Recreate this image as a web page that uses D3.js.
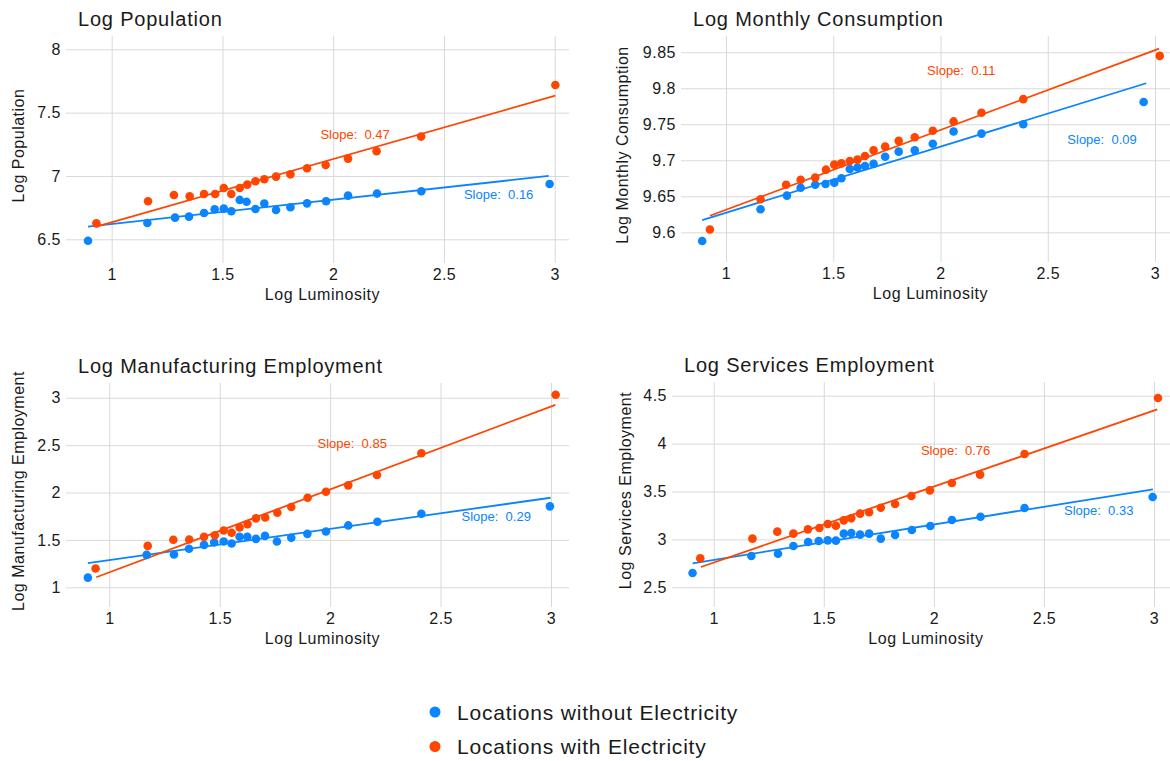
<!DOCTYPE html>
<html>
<head>
<meta charset="utf-8">
<script src="https://cdn.jsdelivr.net/npm/d3@7/dist/d3.min.js"></script>
<style>
  html, body { margin: 0; padding: 0; background: #fff; }
  svg { display: block; font-family: "Liberation Sans", Arial, sans-serif; }
</style>
</head>
<body>
<svg id="chart" width="1170" height="761"></svg>
<script>
// ---------------- DATA ----------------
const panelTitles = ["Log Population", "Log Monthly Consumption", "Log Manufacturing Employment", "Log Services Employment"];
const yAxisTitles = ["Log Population", "Log Monthly Consumption", "Log Manufacturing Employment", "Log Services Employment"];
const xAxisTitle = "Log Luminosity";
const seriesNames = ["Locations without Electricity", "Locations with Electricity"];

const xTickValues = [1, 1.5, 2, 2.5, 3];
const xTickLabels = ["1", "1.5", "2", "2.5", "3"];
const popYTicks = [6.5, 7, 7.5, 8];
const popYTickLabels = ["6.5", "7", "7.5", "8"];
const consYTicks = [9.6, 9.65, 9.7, 9.75, 9.8, 9.85];
const consYTickLabels = ["9.6", "9.65", "9.7", "9.75", "9.8", "9.85"];
const mfgYTicks = [1, 1.5, 2, 2.5, 3];
const mfgYTickLabels = ["1", "1.5", "2", "2.5", "3"];
const svcYTicks = [2.5, 3, 3.5, 4, 4.5];
const svcYTickLabels = ["2.5", "3", "3.5", "4", "4.5"];

// Log Population
const popXNo   = [0.893,1.161,1.286,1.349,1.417,1.465,1.506,1.540,1.578,1.609,1.649,1.689,1.742,1.807,1.882,1.968,2.067,2.198,2.398,2.977];
const popYNo   = [6.489,6.629,6.671,6.679,6.708,6.737,6.742,6.721,6.811,6.797,6.739,6.782,6.732,6.753,6.784,6.800,6.845,6.861,6.879,6.937];
const popXWith = [0.931,1.164,1.281,1.352,1.417,1.467,1.506,1.540,1.578,1.612,1.649,1.689,1.742,1.807,1.882,1.966,2.067,2.196,2.397,3.003];
const popYWith = [6.626,6.800,6.850,6.839,6.858,6.858,6.905,6.858,6.905,6.932,6.958,6.974,6.995,7.013,7.061,7.087,7.137,7.195,7.311,7.718];
const popFitNo   = [0.893, 6.600, 2.973, 7.000];
const popFitWith = [0.931, 6.600, 3.003, 7.634];
const popSlopes = ["0.16", "0.47"];
const popSlopePos = [[2.747, 6.853], [2.099, 7.326]];

// Log Monthly Consumption
const consXNo   = [0.889,1.161,1.284,1.348,1.416,1.464,1.505,1.538,1.577,1.613,1.648,1.688,1.742,1.805,1.880,1.964,2.061,2.191,2.386,2.947];
const consYNo   = [9.588,9.632,9.651,9.662,9.666,9.667,9.669,9.675,9.688,9.690,9.692,9.695,9.705,9.712,9.714,9.723,9.740,9.737,9.750,9.781];
const consXWith = [0.925,1.161,1.280,1.348,1.416,1.466,1.505,1.538,1.577,1.613,1.648,1.688,1.742,1.805,1.880,1.964,2.061,2.191,2.386,3.022];
const consYWith = [9.604,9.646,9.666,9.673,9.676,9.687,9.694,9.696,9.699,9.701,9.706,9.714,9.719,9.727,9.732,9.741,9.754,9.766,9.785,9.845];
const consFitNo   = [0.889, 9.617, 2.959, 9.807];
const consFitWith = [0.925, 9.623, 3.019, 9.855];
const consSlopes = ["0.09", "0.11"];
const consSlopePos = [[2.753, 9.729], [2.097, 9.825]];

// Log Manufacturing Employment
const mfgXNo   = [0.903,1.169,1.293,1.361,1.429,1.475,1.518,1.554,1.590,1.625,1.664,1.705,1.759,1.824,1.897,1.981,2.082,2.214,2.413,2.995];
const mfgYNo   = [1.102,1.342,1.346,1.406,1.448,1.473,1.483,1.462,1.533,1.533,1.511,1.543,1.483,1.522,1.564,1.589,1.653,1.691,1.776,1.854];
const mfgXWith = [0.938,1.174,1.290,1.362,1.429,1.478,1.518,1.554,1.590,1.626,1.664,1.706,1.761,1.824,1.898,1.981,2.082,2.212,2.413,3.021];
const mfgYWith = [1.198,1.437,1.501,1.504,1.533,1.550,1.600,1.575,1.631,1.667,1.727,1.737,1.787,1.847,1.945,2.009,2.076,2.185,2.414,3.032];
const mfgFitNo   = [0.903, 1.254, 2.998, 1.945];
const mfgFitWith = [0.941, 1.106, 3.020, 2.926];
const mfgSlopes = ["0.29", "0.85"];
const mfgSlopePos = [[2.752, 1.748], [2.100, 2.513]];

// Log Services Employment
const svcXNo   = [0.904,1.171,1.292,1.362,1.429,1.477,1.518,1.555,1.591,1.625,1.665,1.706,1.759,1.824,1.900,1.984,2.082,2.212,2.412,2.994];
const svcYNo   = [2.650,2.827,2.851,2.931,2.973,2.983,2.990,2.987,3.060,3.067,3.050,3.060,3.008,3.046,3.098,3.140,3.203,3.237,3.328,3.443];
const svcXWith = [0.939,1.176,1.289,1.362,1.428,1.480,1.518,1.555,1.591,1.625,1.665,1.706,1.759,1.824,1.898,1.982,2.082,2.210,2.412,3.018];
const svcYWith = [2.803,3.008,3.081,3.060,3.105,3.119,3.161,3.143,3.199,3.220,3.269,3.283,3.331,3.370,3.453,3.512,3.589,3.676,3.891,4.476];
const svcFitNo   = [0.904, 2.750, 2.995, 3.523];
const svcFitWith = [0.942, 2.712, 3.015, 4.357];
const svcSlopes = ["0.33", "0.76"];
const svcSlopePos = [[2.749, 3.300], [2.099, 3.926]];

// ---------------- STYLE / LAYOUT ----------------
const colors = ["#0a84ff", "#ff4500"];
const gridColor = "#d9d9d9";
const textColor = "#1a1a1a";
const fontFamily = "Liberation Sans, Arial, sans-serif";

const layouts = [
  { rect: [66, 36, 569, 263],  xd: [0.7937, 3.0646], yd: [6.313, 8.105],   yTitleX: 18 },
  { rect: [681, 36, 1170, 262], xd: [0.7902, 3.0699], yd: [9.5588, 9.8726], yTitleX: 622 },
  { rect: [66, 383, 569, 607], xd: [0.804, 3.0815],  yd: [0.792, 3.156],   yTitleX: 18 },
  { rect: [672, 382, 1170, 607], xd: [0.8106, 3.0727], yd: [2.2944, 4.643], yTitleX: 625 }
];

const panels = [
  { xNo: popXNo, yNo: popYNo, xWith: popXWith, yWith: popYWith, fitNo: popFitNo, fitWith: popFitWith, slopes: popSlopes, slopePos: popSlopePos, yTicks: popYTicks, yLabels: popYTickLabels },
  { xNo: consXNo, yNo: consYNo, xWith: consXWith, yWith: consYWith, fitNo: consFitNo, fitWith: consFitWith, slopes: consSlopes, slopePos: consSlopePos, yTicks: consYTicks, yLabels: consYTickLabels },
  { xNo: mfgXNo, yNo: mfgYNo, xWith: mfgXWith, yWith: mfgYWith, fitNo: mfgFitNo, fitWith: mfgFitWith, slopes: mfgSlopes, slopePos: mfgSlopePos, yTicks: mfgYTicks, yLabels: mfgYTickLabels },
  { xNo: svcXNo, yNo: svcYNo, xWith: svcXWith, yWith: svcYWith, fitNo: svcFitNo, fitWith: svcFitWith, slopes: svcSlopes, slopePos: svcSlopePos, yTicks: svcYTicks, yLabels: svcYTickLabels }
];

const svg = d3.select("#chart");

panels.forEach((p, i) => {
  const L = layouts[i];
  const [l, t, r, b] = L.rect;
  const x = d3.scaleLinear().domain(L.xd).range([l, r]);
  const y = d3.scaleLinear().domain(L.yd).range([b, t]);
  const g = svg.append("g");

  const xAxis = d3.axisBottom(x).tickValues(xTickValues)
    .tickFormat((d, k) => xTickLabels[k]).tickSize(-(b - t)).tickPadding(6);
  const gx = g.append("g").attr("transform", `translate(0,${b})`).call(xAxis);
  gx.select(".domain").remove();
  gx.selectAll(".tick line").attr("stroke", gridColor).attr("stroke-width", 1);
  gx.selectAll(".tick text").attr("fill", textColor).attr("font-size", 16)
    .attr("font-family", fontFamily).attr("letter-spacing", "0.4px");

  const yAxis = d3.axisLeft(y).tickValues(p.yTicks)
    .tickFormat((d, k) => p.yLabels[k]).tickSize(-(r - l)).tickPadding(5);
  const gy = g.append("g").attr("transform", `translate(${l},0)`).call(yAxis);
  gy.select(".domain").remove();
  gy.selectAll(".tick line").attr("stroke", gridColor).attr("stroke-width", 1);
  gy.selectAll(".tick text").attr("fill", textColor).attr("font-size", 16)
    .attr("font-family", fontFamily).attr("letter-spacing", "0.5px");

  g.append("text").attr("x", l + 12).attr("y", t - 10)
    .attr("font-size", 20).attr("letter-spacing", "0.8px")
    .attr("fill", textColor).text(panelTitles[i]);
  g.append("text").attr("x", (l + r) / 2 + 5).attr("y", b + 37)
    .attr("text-anchor", "middle").attr("font-size", 16).attr("letter-spacing", "0.55px")
    .attr("fill", textColor).text(xAxisTitle);
  g.append("text").attr("transform", `translate(${L.yTitleX},${(t + b) / 2 - 4}) rotate(-90)`)
    .attr("text-anchor", "middle").attr("dominant-baseline", "central")
    .attr("font-size", 16).attr("letter-spacing", "0.5px")
    .attr("fill", textColor).text(yAxisTitles[i]);

  [p.fitNo, p.fitWith].forEach((f, s) => {
    g.append("line")
      .attr("x1", x(f[0])).attr("y1", y(f[1]))
      .attr("x2", x(f[2])).attr("y2", y(f[3]))
      .attr("stroke", colors[s]).attr("stroke-width", 1.8);
  });

  const series = [
    p.xNo.map((v, k) => [v, p.yNo[k]]),
    p.xWith.map((v, k) => [v, p.yWith[k]])
  ];
  series.forEach((pts, s) => {
    g.append("g").selectAll("circle").data(pts).join("circle")
      .attr("cx", d => x(d[0])).attr("cy", d => y(d[1])).attr("r", 4.3)
      .attr("fill", colors[s]);
  });

  p.slopes.forEach((sv, s) => {
    g.append("text")
      .attr("x", x(p.slopePos[s][0])).attr("y", y(p.slopePos[s][1]))
      .attr("text-anchor", "middle").attr("dominant-baseline", "central")
      .attr("font-size", 13).attr("fill", colors[s])
      .style("white-space", "pre")
      .text("Slope:  " + sv);
  });
});

const legend = svg.append("g");
seriesNames.forEach((name, s) => {
  const cy = 712 + s * 34.5;
  legend.append("circle").attr("cx", 435).attr("cy", cy).attr("r", 5.5).attr("fill", colors[s]);
  legend.append("text").attr("x", 457).attr("y", cy).attr("dominant-baseline", "central")
    .attr("font-size", 21).attr("letter-spacing", "0.8px")
    .attr("fill", textColor).text(name);
});
</script>
</body>
</html>
